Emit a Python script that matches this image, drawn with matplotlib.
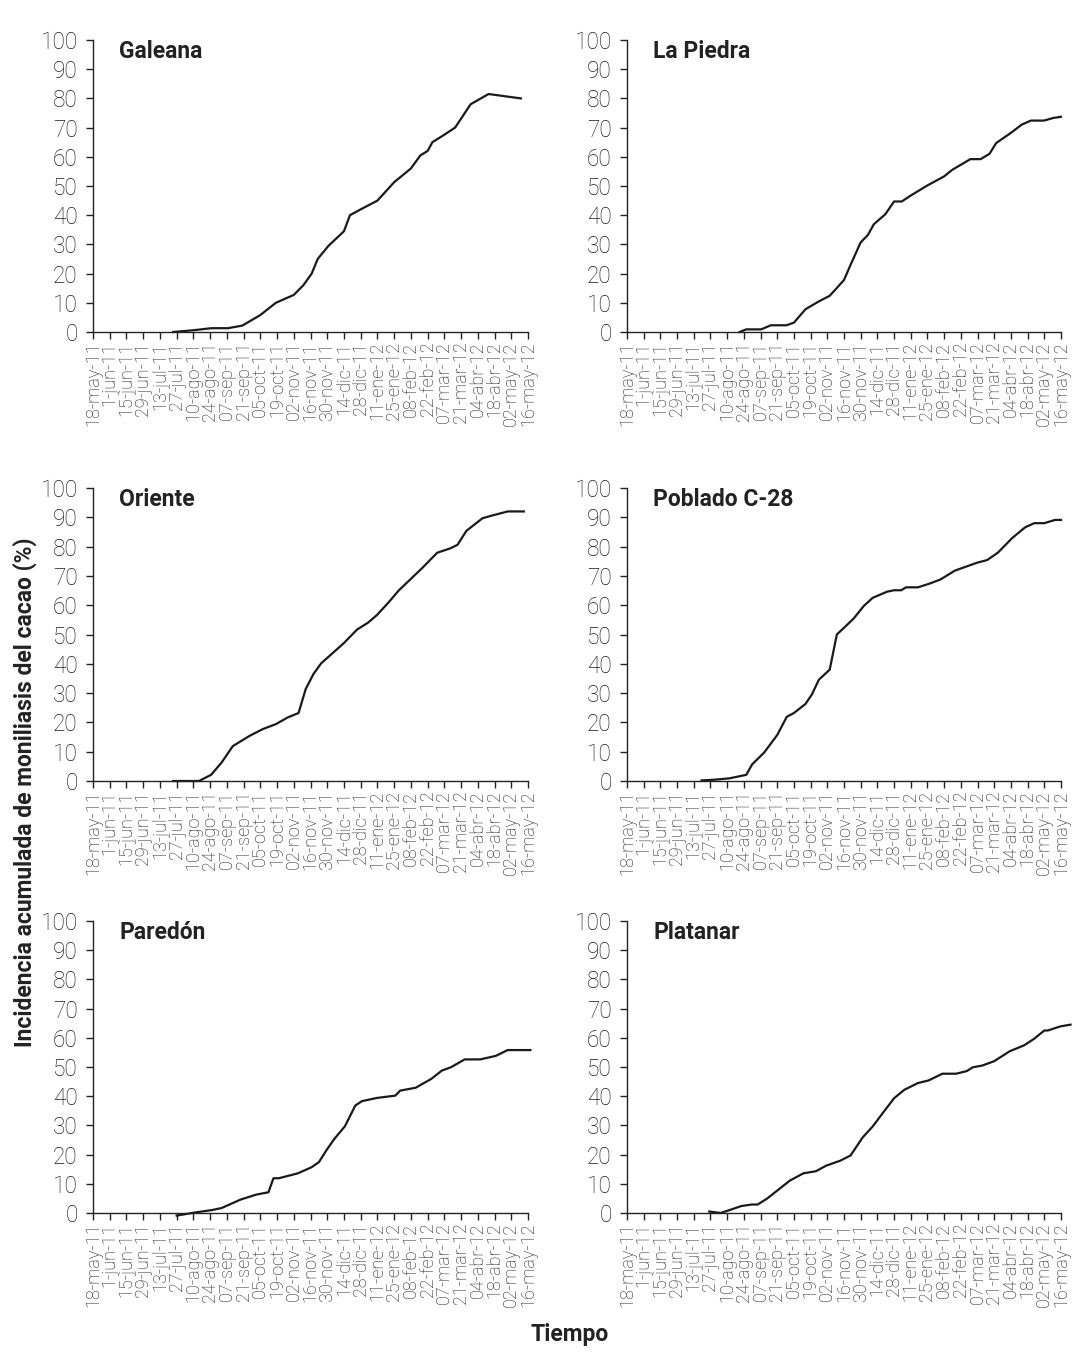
import matplotlib
matplotlib.use("Agg")
import matplotlib.pyplot as plt
import numpy as np

plt.rcParams['font.family'] = ['Roboto', 'DejaVu Sans']

# x tick labels (every 14 days from 18-may-11)
tick_labels = ["18-may-11", "1-jun-11", "15-jun-11", "29-jun-11", "13-jul-11", "27-jul-11",
               "10-ago-11", "24-ago-11", "07-sep-11", "21-sep-11", "05-oct-11", "19-oct-11",
               "02-nov-11", "16-nov-11", "30-nov-11", "14-dic-11", "28-dic-11", "11-ene-12",
               "25-ene-12", "08-feb-12", "22-feb-12", "07-mar-12", "21-mar-12", "04-abr-12",
               "18-abr-12", "02-may-12", "16-may-12"]

# Days since 18-may-11 and cumulative incidence (%)
galeana_days = [67, 84, 99, 113, 125, 140, 153, 168, 176, 183, 188, 197, 210, 215, 224, 238,
                252, 266, 274, 280, 284, 293, 303, 316, 322, 331, 358]
galeana_vals = [0, 0.6, 1.3, 1.3, 2.2, 5.8, 10, 12.7, 16, 20, 25, 29.5, 34.5, 40, 42, 45,
                51.3, 56, 60.5, 62, 65, 67.3, 70, 78, 79.4, 81.5, 80]

piedra_days = [94.5, 100, 112.5, 120.6, 133.7, 140, 149.7, 161, 170, 182, 187.5, 196, 202, 207,
               216.6, 224, 230.5, 237.8, 252, 266, 273, 288, 296.5, 304, 309.6, 322, 331,
               338.7, 349.7, 357.6, 364]
piedra_vals = [0, 0.9, 0.9, 2.3, 2.3, 3.2, 7.8, 10.5, 12.4, 17.8, 23, 30.7, 33.2, 36.9,
               40.3, 44.7, 44.7, 46.7, 50.2, 53.3, 55.6, 59.2, 59.2, 61, 64.7, 68.2, 71,
               72.4, 72.4, 73.3, 73.7]

oriente_days = [67, 88.7, 98.8, 107.6, 117, 131, 142, 153, 163, 172, 178, 184.6, 191, 196,
                210, 221, 230, 237.5, 247, 256, 265, 276, 288, 299, 305, 312.5, 326, 334,
                347, 360.5]
oriente_vals = [0, 0, 2.1, 6.3, 11.9, 15.4, 17.7, 19.4, 21.7, 23.2, 31.4, 36.6, 40.2, 42,
                47.1, 51.7, 54, 56.6, 60.8, 65.1, 68.6, 72.9, 77.9, 79.4, 80.6, 85.4, 89.7,
                90.6, 92, 92]

poblado_days = [62.5, 72, 85.8, 100, 105, 115, 126, 134, 140, 149.7, 155, 161, 170, 176, 182,
                190, 198.5, 206, 218, 224, 230, 234, 244, 254, 263, 275, 293.6, 302, 311,
                323, 334, 341.6, 350, 359, 364]
poblado_vals = [0.2, 0.4, 0.9, 2.1, 5.7, 9.7, 15.7, 21.9, 23.2, 26.3, 29.5, 34.6, 38, 50,
                52.3, 55.4, 59.7, 62.5, 64.6, 65.1, 65.1, 66.1, 66.1, 67.4, 68.8, 71.8, 74.5,
                75.4, 77.9, 82.9, 86.6, 88, 88, 89.1, 89.1]

paredon_days = [70, 85.8, 99.4, 107.6, 123.5, 136.6, 146.8, 151, 155.5, 171.5, 183, 189, 196,
                202, 210.8, 219.5, 225, 237.5, 253, 257, 270, 283, 292, 299.5, 311, 324, 337,
                347, 366]
paredon_vals = [-0.9, 0.2, 1, 1.7, 4.6, 6.3, 7.1, 11.9, 11.9, 13.6, 15.7, 17.4, 21.9, 25.4,
                29.7, 36.8, 38.3, 39.4, 40.2, 41.9, 42.9, 45.9, 48.8, 49.9, 52.6, 52.6, 53.8,
                55.8, 55.8]

platanar_days = [69, 78.5, 86, 96, 104.7, 109.6, 117.7, 136.6, 148, 158.4, 167, 178.8, 187.5,
                 197.7, 206, 215, 224, 232.6, 244, 253, 264.5, 276, 285, 290, 298, 308, 321,
                 333, 341.6, 350, 353, 363.4, 372]
platanar_vals = [0.5, 0, 1, 2.4, 2.9, 2.9, 5, 11.1, 13.6, 14.3, 16.2, 17.9, 19.7, 25.9, 29.6,
                 34.5, 39.3, 42.2, 44.5, 45.4, 47.7, 47.7, 48.6, 49.9, 50.5, 52, 55.4, 57.4,
                 59.7, 62.5, 62.5, 63.9, 64.5]

sites = [
    ("Galeana", galeana_days, galeana_vals),
    ("La Piedra", piedra_days, piedra_vals),
    ("Oriente", oriente_days, oriente_vals),
    ("Poblado C-28", poblado_days, poblado_vals),
    ("Paredón", paredon_days, paredon_vals),
    ("Platanar", platanar_days, platanar_vals),
]

W, H = 1089, 1362
fig = plt.figure(figsize=(W / 100, H / 100), dpi=100)

cols = [(93, 528), (627, 1061)]
rows = [(40, 332), (488, 781), (921, 1213)]

tick_pos = np.arange(len(tick_labels)) * 14
txt_color = "#1a1a1a"

for i, (name, d, v) in enumerate(sites):
    r, c = divmod(i, 2)
    x0, x1 = cols[c]
    yt, yb = rows[r]
    ax = fig.add_axes([x0 / W, 1 - yb / H, (x1 - x0) / W, (yb - yt) / H])
    ax.plot(d, v, color="#1a1a1a", lw=1.6, clip_on=False, solid_joinstyle="round")
    ax.set_xlim(0, 364)
    ax.set_ylim(0, 100)
    ax.set_yticks(np.arange(0, 101, 10))
    ax.set_xticks(tick_pos)
    ax.set_xticklabels(tick_labels, rotation=90, fontsize=13, fontweight="light",
                       color=txt_color)
    for lab in ax.get_yticklabels():
        lab.set_fontsize(16.3)
        lab.set_fontweight("light")
        lab.set_color(txt_color)
    for s in ["top", "right"]:
        ax.spines[s].set_visible(False)
    for s in ["left", "bottom"]:
        ax.spines[s].set_color("#222222")
        ax.spines[s].set_linewidth(1.0)
    ax.tick_params(direction="out", length=5, width=1.0, color="#222222")
    ax.tick_params(axis="x", pad=2)
    ax.tick_params(axis="y", pad=6)
    ax.text(0.06, 0.96, name, transform=ax.transAxes, fontsize=16.5, fontweight="bold",
            color="#222222", ha="left", va="center")

fig.text(25 / W, 1 - 792 / H, "Incidencia acumulada de moniliasis del cacao (%)",
         rotation=90, ha="center", va="center", fontsize=16.5, fontweight="bold", color="#222222")
fig.text(570 / W, 1 - 1335 / H, "Tiempo", ha="center", va="center", fontsize=16.5,
         fontweight="bold", color="#222222")

fig.savefig("out.png", dpi=100)
